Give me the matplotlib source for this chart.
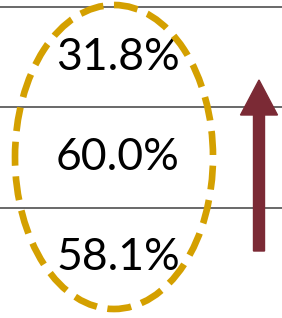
import matplotlib.pyplot as plt
from matplotlib.patches import Ellipse

# values shown in the three rows (top to bottom)
labels = ["31.8%", "60.0%", "58.1%"]
row_centers = [57, 157, 258]
rule_rows = [6.5, 107, 207.5]

W, H = 282, 318
fig = plt.figure(figsize=(W / 100, H / 100), dpi=100)
ax = fig.add_axes([0, 0, 1, 1])
ax.set_xlim(0, W)
ax.set_ylim(H, 0)
ax.axis("off")

for y in rule_rows:
    ax.axhline(y, color="#404040", lw=1.1)

for lab, y in zip(labels, row_centers):
    ax.text(118, y, lab, ha="center", va="center", fontsize=32,
            family="Lato", color="black")

# dashed highlight ellipse
ax.add_patch(Ellipse((114, 157), 198, 304, fill=False, edgecolor="#D4A000",
                     lw=4.8, ls=(0, (3.6, 1.6)), zorder=3))

# upward arrow
ax.arrow(259, 251, 0, -171, width=11, head_width=37, head_length=35,
         length_includes_head=True, color="#7B2A35", zorder=4)

fig.savefig("out.png", dpi=100)
